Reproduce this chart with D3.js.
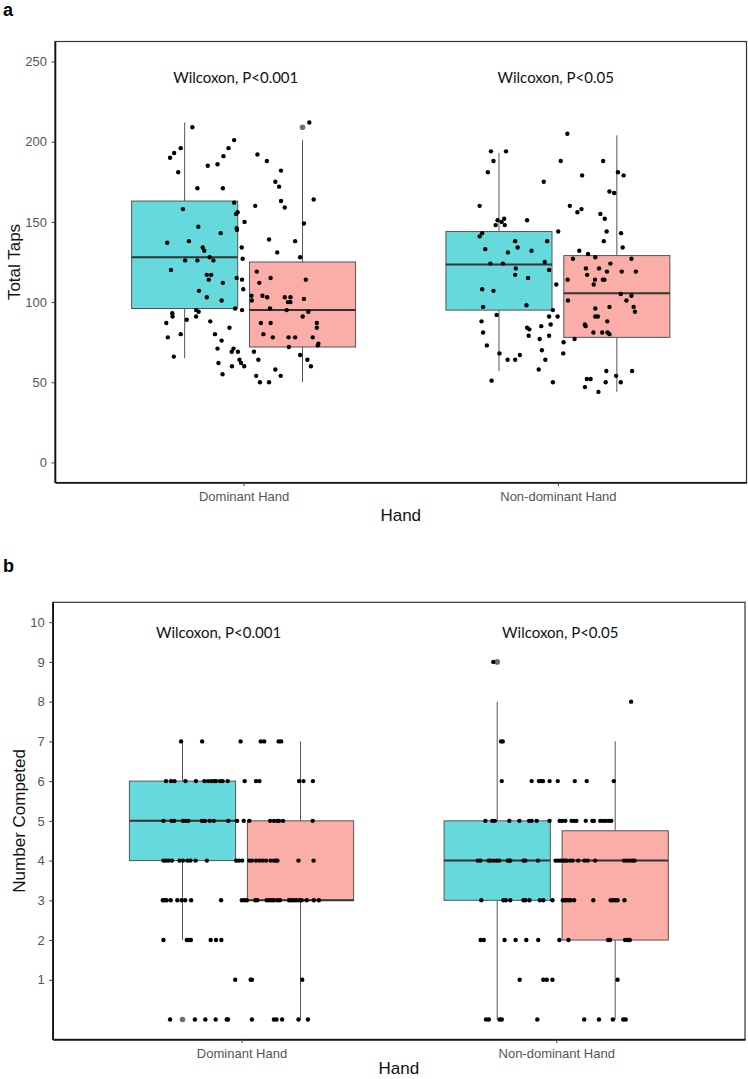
<!DOCTYPE html>
<html>
<head>
<meta charset="utf-8">
<script src="https://cdn.jsdelivr.net/npm/d3@7"></script>
<style>
  body { margin: 0; background: #fff; }
  svg { display: block; font-family: "Liberation Sans", Arial, sans-serif; }
</style>
</head>
<body>
<svg id="chart" width="748" height="1079"></svg>
<script>
// ---- data ----
const hands = ["Dominant Hand", "Non-dominant Hand"];
const groupFills = ["#66D9DC", "#FBADA7"];   // first / second box of each hand

const tapsTicks = [0, 50, 100, 150, 200, 250];
const countTicks = [1, 2, 3, 4, 5, 6, 7, 8, 9, 10];

const tapsStats = [
  { hand: "Dominant Hand", group: 0, lower: 65, q1: 96, median: 128, q3: 163, upper: 212, outliers: [] },
  { hand: "Dominant Hand", group: 1, lower: 50, q1: 72, median: 95, q3: 125, upper: 201, outliers: [209] },
  { hand: "Non-dominant Hand", group: 0, lower: 57, q1: 95, median: 123.5, q3: 144, upper: 193, outliers: [] },
  { hand: "Non-dominant Hand", group: 1, lower: 44, q1: 78, median: 105.5, q3: 129, upper: 204, outliers: [] }
];

const countStats = [
  { hand: "Dominant Hand", group: 0, lower: 2, q1: 4, median: 5, q3: 6, upper: 7, outliers: [0] },
  { hand: "Dominant Hand", group: 1, lower: 0, q1: 3, median: 3, q3: 5, upper: 7, outliers: [] },
  { hand: "Non-dominant Hand", group: 0, lower: 0, q1: 3, median: 4, q3: 5, upper: 8, outliers: [9] },
  { hand: "Non-dominant Hand", group: 1, lower: 0, q1: 2, median: 4, q3: 4.75, upper: 7, outliers: [] }
];

// [value, jitter] -- jitter is the horizontal geom_jitter offset in category units
const tapsDominant = [[209,-0.163],[212,0.209],[196,-0.200],[193,-0.221],[190,-0.234],[181,-0.208],[201,-0.030],[196,-0.048],[191,-0.064],[186,-0.083],[185,-0.114],[192,0.044],[188,0.074],[182,0.119],[175,0.101],[172,0.113],[163,0.119],[159,0.131],[164,0.223],[160,0.037],[171,-0.147],[171,-0.066],[158,-0.193],[162,-0.030],[156,-0.019],[155,-0.024],[150,0.003],[146,-0.022],[145,-0.021],[147,-0.144],[143,-0.073],[137,-0.243],[138,-0.174],[134,-0.130],[132,-0.125],[134,-0.006],[127,-0.003],[139,0.081],[131,0.107],[138,0.164],[128,0.180],[149,0.192],[126,-0.186],[126,-0.147],[128,-0.108],[126,-0.096],[120,-0.231],[117,-0.117],[117,-0.103],[114,-0.111],[112,-0.066],[115,-0.022],[114,-0.005],[108,-0.001],[119,0.042],[115,0.086],[112,0.050],[114,0.198],[107,-0.142],[103,-0.117],[101,-0.070],[104,0.025],[101,0.026],[104,0.060],[103,0.075],[103,0.131],[103,0.149],[100,0.141],[100,0.149],[102,0.192],[96,0.084],[95,0.137],[94,0.206],[91,0.188],[95,-0.151],[94,-0.143],[96,-0.027],[95,-0.005],[93,-0.227],[91,-0.226],[89,-0.181],[91,-0.151],[88,-0.106],[87,-0.246],[87,0.055],[87,0.086],[87,0.233],[84,0.233],[78,-0.241],[80,-0.200],[80,-0.091],[76,-0.070],[84,-0.045],[80,0.063],[78,0.093],[78,0.143],[78,0.164],[78,0.220],[74,0.238],[73,0.236],[71,-0.083],[71,-0.032],[69,-0.038],[69,-0.018],[72,0.144],[69,0.033],[67,0.180],[64,0.203],[66,-0.222],[64,-0.013],[62,-0.008],[60,0.002],[64,0.047],[62,-0.080],[60,-0.037],[60,0.214],[58,0.101],[54,0.118],[55,-0.067],[54,0.040],[50,0.052],[50,0.081]];

const tapsNonDominant = [[205,0.030],[194,-0.213],[194,-0.165],[188,-0.205],[181,-0.223],[188,0.009],[188,0.144],[175,-0.045],[179,0.077],[181,0.191],[179,0.209],[160,-0.249],[160,0.038],[156,0.062],[158,0.075],[169,0.164],[168,0.179],[155,0.135],[152,0.149],[151,-0.192],[150,-0.179],[152,-0.171],[148,-0.198],[148,-0.169],[151,-0.098],[143,-0.241],[141,-0.249],[144,0.001],[144,0.155],[143,0.201],[138,0.146],[133,-0.231],[138,-0.136],[134,-0.128],[131,-0.159],[132,-0.084],[138,-0.034],[132,0.068],[130,0.096],[128,0.119],[134,0.206],[127,0.048],[127,0.234],[124,-0.215],[124,-0.175],[125,-0.042],[120,-0.028],[121,-0.134],[117,-0.136],[115,-0.095],[121,0.089],[117,0.093],[121,0.131],[119,0.156],[124,0.167],[119,0.203],[119,0.248],[114,0.031],[114,0.118],[114,0.143],[114,0.148],[111,0.114],[111,-0.005],[108,-0.241],[107,-0.205],[105,0.200],[104,0.234],[101,0.032],[101,0.218],[97,0.241],[94,0.245],[97,-0.238],[98,-0.100],[95,-0.016],[96,0.119],[97,0.164],[92,-0.195],[91,-0.028],[91,-0.001],[91,0.119],[91,0.127],[88,0.157],[88,-0.243],[81,-0.238],[84,-0.098],[83,-0.091],[85,-0.053],[86,-0.023],[79,-0.093],[79,-0.028],[86,0.086],[85,0.088],[81,0.113],[81,0.141],[81,0.158],[80,0.164],[77,-0.058],[70,-0.051],[73,-0.226],[75,0.018],[77,0.053],[68,-0.186],[64,-0.160],[64,-0.136],[67,-0.121],[64,-0.040],[68,0.017],[58,-0.061],[51,-0.211],[50,-0.016],[57,0.154],[57,0.236],[54,0.185],[50,0.200],[52,0.092],[52,0.104],[47,0.086],[44,0.129],[50,0.152]];

// number completed: [value, jitters of the points sitting on that value]
const countDominantRows = [
  [7, [-0.192,-0.125,-0.003,0.061,0.072,0.118,0.126]],
  [6, [-0.240,-0.224,-0.213,-0.178,-0.145,-0.118,-0.106,-0.095,-0.086,-0.081,-0.068,-0.060,-0.044,0.010,0.046,0.057,0.183,0.197,0.227]],
  [5, [-0.248,-0.222,-0.214,-0.186,-0.177,-0.169,-0.126,-0.120,-0.116,-0.101,-0.088,-0.042,-0.014,0.007,0.025,0.091,0.103,0.113,0.119,0.132,0.226]],
  [4, [-0.248,-0.240,-0.232,-0.221,-0.197,-0.186,-0.172,-0.162,-0.146,-0.110,-0.017,-0.008,0.002,0.025,0.033,0.046,0.057,0.067,0.078,0.092,0.103,0.110,0.114,0.181,0.229]],
  [3, [-0.250,-0.244,-0.238,-0.225,-0.204,-0.190,-0.179,-0.160,-0.065,0.001,0.009,0.017,0.044,0.050,0.080,0.088,0.096,0.103,0.114,0.122,0.151,0.158,0.166,0.174,0.184,0.191,0.207,0.230,0.246]],
  [2, [-0.248,-0.174,-0.168,-0.161,-0.098,-0.081,-0.064]],
  [1, [-0.020,0.029,0.033,0.193]],
  [0, [-0.227,-0.148,-0.115,-0.082,-0.047,-0.043,0.033,0.103,0.111,0.129,0.181,0.211]]
];

const countNonDominantRows = [
  [9, [-0.200]],
  [8, [0.238]],
  [7, [-0.175,-0.170]],
  [6, [-0.173,-0.078,-0.055,-0.048,-0.042,-0.021,0.005,0.059,0.097,0.183]],
  [5, [-0.225,-0.203,-0.195,-0.149,-0.117,-0.086,-0.078,-0.062,-0.021,0.011,0.019,0.029,0.049,0.057,0.064,0.094,0.115,0.120,0.140,0.149,0.157,0.167,0.175]],
  [4, [-0.249,-0.241,-0.215,-0.208,-0.198,-0.189,-0.181,-0.154,-0.149,-0.146,-0.104,-0.098,-0.058,-0.002,0.006,0.014,0.022,0.028,0.033,0.044,0.052,0.070,0.090,0.100,0.124,0.216,0.225,0.234,0.242,0.249]],
  [3, [-0.238,-0.168,-0.160,-0.146,-0.104,-0.098,-0.085,-0.052,-0.041,-0.012,0.021,0.028,0.033,0.040,0.046,0.057,0.118,0.173,0.181,0.189,0.195,0.217]],
  [2, [-0.240,-0.230,-0.164,-0.129,-0.095,-0.057,0.010,0.039,0.165,0.171,0.219,0.227,0.234]],
  [1, [-0.116,-0.041,-0.030,-0.012,0.195]],
  [0, [-0.223,-0.214,-0.180,-0.173,-0.060,0.089,0.136,0.180,0.213,0.221]]
];

const tapsLabels = ["Wilcoxon, P<0.001", "Wilcoxon, P<0.05"];
const countLabels = ["Wilcoxon, P<0.001", "Wilcoxon, P<0.05"];

// ---- helpers ----
const flattenRows = (rows) => rows.flatMap(([v, js]) => js.map((j) => [v, j]));

const panels = [
  {
    tag: "a", top: 41.5, bottom: 482.5, left: 55, right: 746.5,
    domain: [-12.5, 262.5], ticks: tapsTicks, stats: tapsStats,
    points: { "Dominant Hand": tapsDominant, "Non-dominant Hand": tapsNonDominant },
    labels: tapsLabels, labelX: [-0.025, -0.007], labelY: 240,
    yTitle: "Total Taps", yTitleX: 19.5, tagY: 16, xTitleDy: 38
  },
  {
    tag: "b", top: 602.3, bottom: 1039.4, left: 52.7, right: 745,
    domain: [-0.5, 10.5], ticks: countTicks, stats: countStats,
    points: { "Dominant Hand": flattenRows(countDominantRows), "Non-dominant Hand": flattenRows(countNonDominantRows) },
    labels: countLabels, labelX: [-0.073, 0.013], labelY: 9.74,
    yTitle: "Number Competed", yTitleX: 24.5, tagY: 572, xTitleDy: 35
  }
];

const svg = d3.select("#chart");

panels.forEach((p) => {
  const g = svg.append("g");

  const x = d3.scalePoint().domain(hands).range([p.left, p.right]).padding(0.6);
  const y = d3.scaleLinear().domain(p.domain).range([p.bottom, p.top]);
  const step = x.step();
  const dodge = 0.1875 * step;
  const boxW = 0.3375 * step;

  // panel border (top / right)
  g.append("rect")
    .attr("x", p.left).attr("y", p.top)
    .attr("width", p.right - p.left).attr("height", p.bottom - p.top)
    .attr("fill", "none").attr("stroke", "#333").attr("stroke-width", 1.2);

  // boxes
  const boxes = g.selectAll("g.box").data(p.stats).join("g").attr("class", "box")
    .attr("transform", (d) => `translate(${x(d.hand) + (d.group === 0 ? -dodge : dodge)},0)`);

  boxes.append("line")
    .attr("y1", (d) => y(d.upper)).attr("y2", (d) => y(d.q3))
    .attr("stroke", "#555").attr("stroke-width", 1);
  boxes.append("line")
    .attr("y1", (d) => y(d.q1)).attr("y2", (d) => y(d.lower))
    .attr("stroke", "#555").attr("stroke-width", 1);
  boxes.append("rect")
    .attr("x", -boxW / 2).attr("width", boxW)
    .attr("y", (d) => y(d.q3)).attr("height", (d) => y(d.q1) - y(d.q3))
    .attr("fill", (d) => groupFills[d.group])
    .attr("stroke", "#555").attr("stroke-width", 1);
  boxes.append("line")
    .attr("x1", -boxW / 2).attr("x2", boxW / 2)
    .attr("y1", (d) => y(d.median)).attr("y2", (d) => y(d.median))
    .attr("stroke", "#333").attr("stroke-width", 2);
  boxes.selectAll("circle.outlier").data((d) => d.outliers).join("circle")
    .attr("class", "outlier")
    .attr("cy", (v) => y(v)).attr("r", 2.8)
    .attr("fill", "#6e6e6e");

  // jittered points
  hands.forEach((h) => {
    g.append("g").selectAll("circle").data(p.points[h]).join("circle")
      .attr("cx", (d) => x(h) + d[1] * step)
      .attr("cy", (d) => y(d[0]))
      .attr("r", 2.2)
      .attr("fill", "#000");
  });

  // Wilcoxon labels
  g.append("g").selectAll("text").data(p.labels).join("text")
    .attr("x", (d, i) => x(hands[i]) + p.labelX[i] * step)
    .attr("y", y(p.labelY))
    .attr("dy", "0.35em")
    .attr("text-anchor", "middle")
    .style("font-family", "Lato, 'Open Sans', sans-serif")
    .style("font-size", "15px")
    .attr("fill", "#111")
    .text((d) => d);

  // axes
  const yAxis = g.append("g")
    .attr("transform", `translate(${p.left},0)`)
    .call(d3.axisLeft(y).tickValues(p.ticks).tickSize(3.5).tickSizeOuter(0).tickPadding(4.5));
  const xAxis = g.append("g")
    .attr("transform", `translate(0,${p.bottom})`)
    .call(d3.axisBottom(x).tickSize(3.5).tickSizeOuter(0).tickPadding(6));

  [yAxis, xAxis].forEach((ax) => {
    ax.select(".domain").attr("stroke", "#111").attr("stroke-width", 1.6);
    ax.selectAll(".tick line").attr("stroke", "#444");
    ax.selectAll(".tick text")
      .attr("fill", "#555")
      .style("font-size", "13px")
      .style("font-family", "'Liberation Sans', Arial, sans-serif");
  });

  // axis titles
  g.append("text")
    .attr("x", (p.left + p.right) / 2)
    .attr("y", p.bottom + p.xTitleDy)
    .attr("text-anchor", "middle")
    .style("font-size", "17px")
    .attr("fill", "#111")
    .text("Hand");

  g.append("text")
    .attr("transform", `translate(${p.yTitleX},${(p.top + p.bottom) / 2}) rotate(-90)`)
    .attr("text-anchor", "middle")
    .style("font-size", "17px")
    .attr("fill", "#111")
    .text(p.yTitle);

  // panel tag
  g.append("text")
    .attr("x", 3).attr("y", p.tagY)
    .style("font-size", "18px").style("font-weight", "bold")
    .attr("fill", "#000")
    .text(p.tag);
});
</script>
</body>
</html>
